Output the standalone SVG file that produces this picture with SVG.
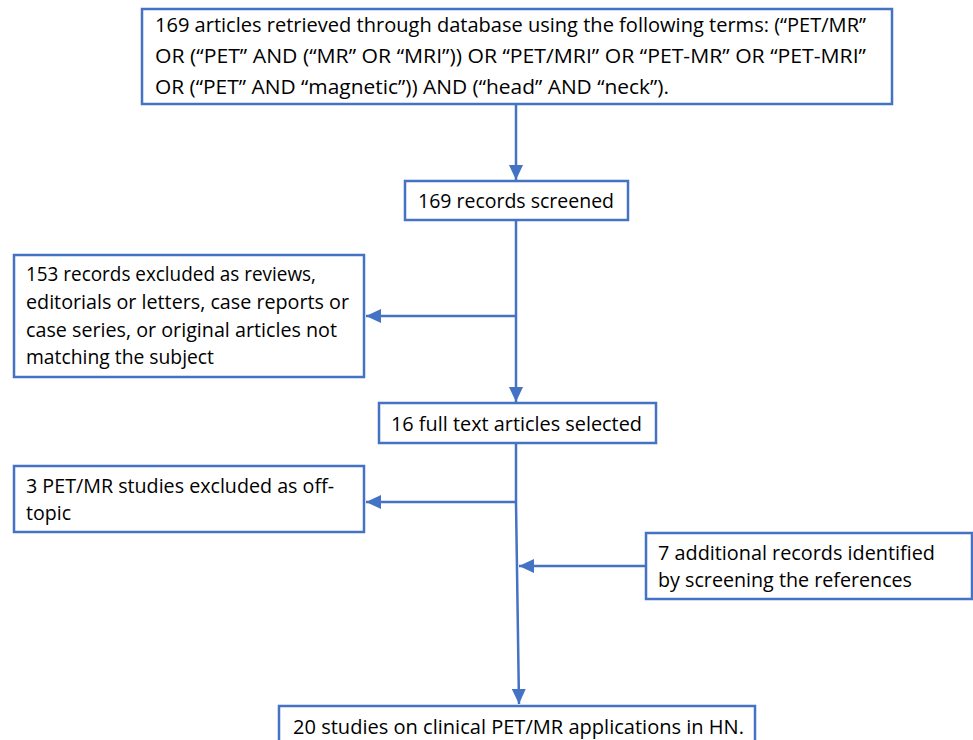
<svg xmlns="http://www.w3.org/2000/svg" width="973" height="740" viewBox="0 0 973 740">
<style>
.box{fill:#fff;stroke:#4472C4;stroke-width:2.5}
.t{font-family:"Open Sans","Liberation Sans",Arial,sans-serif;font-size:19.5px;fill:#000}
.c{fill:none;stroke:#4472C4;stroke-width:2.5}
</style>
<defs>
<marker id="ah" markerUnits="userSpaceOnUse" markerWidth="16" markerHeight="14" refX="15" refY="7" orient="auto">
<path d="M0,0 L15,7 L0,14 Z" fill="#4472C4"/>
</marker>
</defs>
<rect width="973" height="740" fill="#fff"/>
<g id="connectors">
<line class="c" x1="516" y1="104" x2="516" y2="180" marker-end="url(#ah)"/>
<line class="c" x1="516" y1="220" x2="516" y2="402" marker-end="url(#ah)"/>
<line class="c" x1="516" y1="316" x2="366" y2="316" marker-end="url(#ah)"/>
<polyline class="c" points="516,443 516,502 519,704" marker-end="url(#ah)"/>
<line class="c" x1="516" y1="502" x2="366" y2="502" marker-end="url(#ah)"/>
<line class="c" x1="646" y1="566" x2="519" y2="566" marker-end="url(#ah)"/>
</g>
<g id="n1">
<rect class="box" x="142" y="9" width="750" height="95"/>
<text class="t" x="155" y="32" textLength="711" lengthAdjust="spacingAndGlyphs">169 articles retrieved through database using the following terms: (“PET/MR”</text>
<text class="t" x="155" y="63" textLength="711" lengthAdjust="spacingAndGlyphs">OR (“PET” AND (“MR” OR “MRI”)) OR “PET/MRI” OR “PET-MR” OR “PET-MRI”</text>
<text class="t" x="155" y="94" textLength="514" lengthAdjust="spacingAndGlyphs">OR (“PET” AND “magnetic”)) AND (“head” AND “neck”).</text>
</g>
<g id="n2">
<rect class="box" x="405" y="181" width="223" height="39"/>
<text class="t" x="418" y="208" textLength="196" lengthAdjust="spacingAndGlyphs">169 records screened</text>
</g>
<g id="n3">
<rect class="box" x="14" y="255" width="350" height="122"/>
<text class="t" x="26" y="281" textLength="290" lengthAdjust="spacingAndGlyphs">153 records excluded as reviews,</text>
<text class="t" x="26" y="309" textLength="323" lengthAdjust="spacingAndGlyphs">editorials or letters, case reports or</text>
<text class="t" x="26" y="337" textLength="311" lengthAdjust="spacingAndGlyphs">case series, or original articles not</text>
<text class="t" x="26" y="364" textLength="188" lengthAdjust="spacingAndGlyphs">matching the subject</text>
</g>
<g id="n4">
<rect class="box" x="379" y="403" width="277" height="40"/>
<text class="t" x="391" y="431" textLength="251" lengthAdjust="spacingAndGlyphs">16 full text articles selected</text>
</g>
<g id="n5">
<rect class="box" x="14" y="466" width="350" height="66"/>
<text class="t" x="26" y="493" textLength="308" lengthAdjust="spacingAndGlyphs">3 PET/MR studies excluded as off-</text>
<text class="t" x="26" y="520" textLength="45" lengthAdjust="spacingAndGlyphs">topic</text>
</g>
<g id="n6">
<rect class="box" x="646" y="533" width="326" height="66"/>
<text class="t" x="658" y="560" textLength="277" lengthAdjust="spacingAndGlyphs">7 additional records identified</text>
<text class="t" x="658" y="587" textLength="254" lengthAdjust="spacingAndGlyphs">by screening the references</text>
</g>
<g id="n7">
<rect class="box" x="279" y="706" width="476" height="40"/>
<text class="t" x="293" y="734" textLength="451" lengthAdjust="spacingAndGlyphs">20 studies on clinical PET/MR applications in HN.</text>
</g>
</svg>
